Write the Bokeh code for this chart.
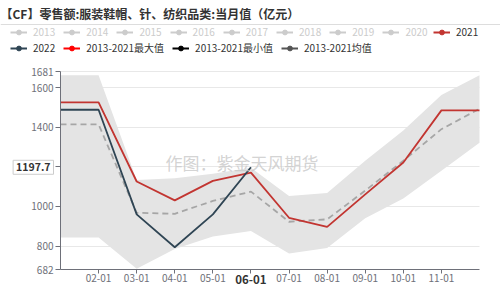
from bokeh.plotting import figure
from bokeh.models import (Range1d, FixedTicker, Label, Legend, LegendItem,
                          ColumnDataSource, BoxAnnotation)
from bokeh.embed import file_html
from bokeh.resources import INLINE

# ---------------- data ----------------
months = [1, 2, 3, 4, 5, 6, 7, 8, 9, 10, 11, 12]
tick_months = [2, 3, 4, 5, 6, 7, 8, 9, 10, 11]
tick_labels = ["02-01", "03-01", "04-01", "05-01", "06-01",
               "07-01", "08-01", "09-01", "10-01", "11-01"]
y2021 = [1525, 1525, 1126, 1031, 1129, 1171, 943, 897, 1061, 1222, 1485, 1485]
months_2022 = [1, 2, 3, 4, 5, 6]
y2022 = [1488, 1488, 960, 794, 960, 1197.7]
mean_1321 = [1414, 1414, 968, 963, 1028, 1075, 923, 935, 1080, 1231, 1390, 1493]
max_1321 = [1662, 1662, 1133, 1142, 1165, 1195, 1053, 1068, 1231, 1383, 1563, 1662]
min_1321 = [843, 843, 686, 786, 848, 876, 763, 790, 940, 1040, 1180, 1322]
legend_years = ["2013", "2014", "2015", "2016", "2017", "2018", "2019", "2020"]
y_ticks = [682, 800, 1000, 1200, 1400, 1600, 1681]
grid_ticks = [800, 1000, 1200, 1400, 1600, 1681]
x_min, x_max = 1, 12
y_min, y_max = 682, 1681
current_label = "1197.7"
current_value = 1197.7
current_month = 6
title_text = "【CF】零售额:服装鞋帽、针、纺织品类:当月值（亿元）"
watermark = "作图：紫金天风期货"

C2021 = "#c23531"
C2022 = "#2f4554"
CMAX = "#ff0000"
CMIN = "#000000"
CMEAN = "#555555"
CGRAY = "#cccccc"
FONT = "Noto Sans CJK SC"
AXIS = "#6e7079"

# plot-area geometry (pixels) inside a 500x290 canvas
W, H = 500, 290
PL, PR, PT, PB = 60, 479, 71, 269
sx = (PR - PL) / (x_max - x_min)
sy = (PB - PT) / (y_max - y_min)
x_range = Range1d(x_min - PL / sx, x_max + (W - PR) / sx)
y_range = Range1d(y_min - (H - PB) / sy, y_max + PT / sy)

p = figure(width=W, height=H, output_backend="svg", toolbar_location=None,
           x_range=x_range, y_range=y_range,
           min_border_left=0, min_border_right=0, min_border_top=0,
           min_border_bottom=0)
p.outline_line_color = None
p.background_fill_color = "white"
p.border_fill_color = "white"

# axes (drawn at fixed data locations, so the frame spans the whole canvas)
xa = p.xaxis[0]
xa.fixed_location = y_min
xa.bounds = (x_min, x_max)
xa.ticker = FixedTicker(ticks=tick_months)
xa.major_label_overrides = {m: (lab if m != current_month else "")
                            for m, lab in zip(tick_months, tick_labels)}
xa.axis_line_color = AXIS
xa.major_tick_line_color = AXIS
xa.minor_tick_line_color = None
xa.major_tick_out = 4
xa.major_tick_in = 0
xa.major_label_standoff = 0
xa.major_label_text_font = FONT
xa.major_label_text_font_size = "10px"
xa.major_label_text_color = AXIS

ya = p.yaxis[0]
ya.fixed_location = x_min
ya.bounds = (y_min, y_max)
ya.ticker = FixedTicker(ticks=y_ticks)
ya.major_label_overrides = {t: ("" if t == 1200 else str(t)) for t in y_ticks}
ya.axis_line_color = AXIS
ya.major_tick_line_color = AXIS
ya.minor_tick_line_color = None
ya.major_tick_out = 5
ya.major_tick_in = 0
ya.major_label_standoff = 2
ya.major_label_text_font = FONT
ya.major_label_text_font_size = "10px"
ya.major_label_text_color = AXIS

p.xgrid.grid_line_color = None
p.ygrid.ticker = FixedTicker(ticks=grid_ticks)
p.ygrid.grid_line_color = "#e8e8e8"
try:
    p.ygrid.cross_bounds = (x_min, x_max)
except Exception:
    pass

# band and lines
p.varea(x=months, y1=min_1321, y2=max_1321, fill_color="#e4e4e4")
p.line(months, mean_1321, line_color="#a6a6a6", line_width=1.8, line_dash="6 4")
p.line(months, y2021, line_color=C2021, line_width=1.8)
p.line(months_2022, y2022, line_color=C2022, line_width=1.8)

# legend helper renderers (one NaN point: nothing drawn in the plot)
NAN = float("nan")

def icon(color):
    src = ColumnDataSource(dict(x=[NAN], y=[NAN]))
    r1 = p.line("x", "y", source=src, line_color=color, line_width=2)
    r2 = p.scatter("x", "y", source=src, size=8, fill_color=color, line_color=color)
    return [r1, r2]

def make_legend(items, x, y, color):
    lg = Legend(items=items, location=(x, y), orientation="horizontal",
                glyph_width=17, glyph_height=12, label_height=12,
                label_standoff=6, spacing=8, padding=0, margin=0,
                border_line_color=None, background_fill_alpha=0,
                label_text_font=FONT, label_text_font_size="10px",
                label_text_color=color)
    p.add_layout(lg)

items_a = [LegendItem(label=yr, renderers=icon(CGRAY)) for yr in legend_years]
make_legend(items_a, 10, H - 39, CGRAY)
make_legend([LegendItem(label="2021", renderers=icon(C2021))], 433, H - 39, "#333333")
items_c = [LegendItem(label="2022", renderers=icon(C2022)),
           LegendItem(label="2013-2021最大值", renderers=icon(CMAX)),
           LegendItem(label="2013-2021最小值", renderers=icon(CMIN)),
           LegendItem(label="2013-2021均值", renderers=icon(CMEAN))]
make_legend(items_c, 10, H - 55, "#333333")

# title and separator
p.add_layout(Label(x=0, y=H - 12.5, x_units="screen", y_units="screen",
                   text=title_text, text_font=FONT, text_font_size="12px",
                   text_font_style="bold", text_color="#333333",
                   text_baseline="middle", text_align="left"))
p.add_layout(BoxAnnotation(left=0, right=W, bottom=H - 24.5, top=H - 23.5,
                           left_units="screen", right_units="screen",
                           bottom_units="screen", top_units="screen",
                           fill_color="#dddddd", fill_alpha=1, line_color=None))

# watermark
p.add_layout(Label(x=241.5, y=H - 161.5, x_units="screen", y_units="screen",
                   text=watermark, text_font=FONT, text_font_size="17px",
                   text_color="#c8c8c8", text_alpha=0.8,
                   text_align="center", text_baseline="middle"))

# current month bold tick label
p.add_layout(Label(x=current_month, y=H - 278.5, x_units="data", y_units="screen",
                   text=tick_labels[tick_months.index(current_month)],
                   text_font=FONT, text_font_size="11.5px", text_font_style="bold",
                   text_color="#333333", text_align="center", text_baseline="middle"))

# current value label on y axis
p.add_layout(Label(x=53, y=current_value, x_units="screen", y_units="data",
                   text=current_label, text_font=FONT, text_font_size="10.5px",
                   text_font_style="bold", text_color="#333333",
                   text_align="right", text_baseline="middle",
                   background_fill_color="white", border_line_color="#cccccc",
                   padding=3))

open("out.html", "w").write(file_html(p, INLINE))
